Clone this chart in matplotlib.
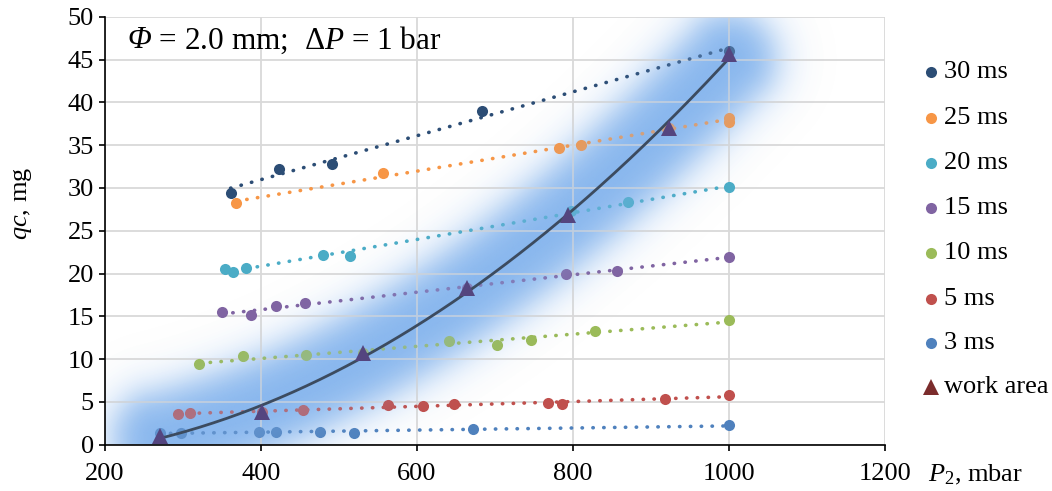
import numpy as np
import matplotlib
matplotlib.use("Agg")
import matplotlib.pyplot as plt
from matplotlib.lines import Line2D
from matplotlib.transforms import offset_copy

plt.rcParams['font.family'] = ['Liberation Serif', 'DejaVu Serif']
plt.rcParams['mathtext.fontset'] = 'custom'
plt.rcParams['mathtext.rm'] = 'Liberation Serif'
plt.rcParams['mathtext.it'] = 'Liberation Serif:italic'

# ---- data ----
labels = ["30 ms", "25 ms", "20 ms", "15 ms", "10 ms", "5 ms", "3 ms"]
colors = ["#2C4D75", "#F79646", "#4BACC6", "#8064A2", "#9BBB59", "#C0504D", "#4F81BD"]

x30 = [361, 423, 491, 683, 1000]
y30 = [29.4, 32.2, 32.8, 39.0, 46.0]
x25 = [368, 557, 782, 810, 923, 1000, 1000]
y25 = [28.2, 31.7, 34.7, 35.0, 37.0, 37.7, 38.2]
x20 = [354, 364, 381, 479, 514, 798, 870, 1000]
y20 = [20.5, 20.2, 20.6, 22.2, 22.0, 27.3, 28.3, 30.1]
x15 = [350, 387, 419, 457, 664, 791, 857, 1000]
y15 = [15.5, 15.1, 16.2, 16.5, 18.3, 20.0, 20.3, 21.9]
x10 = [321, 377, 458, 531, 641, 703, 746, 828, 1000]
y10 = [9.4, 10.4, 10.5, 10.7, 12.15, 11.65, 12.2, 13.3, 14.6]
x5 = [293, 309, 401, 454, 563, 608, 647, 768, 786, 918, 1000]
y5 = [3.55, 3.74, 3.86, 4.0, 4.6, 4.5, 4.7, 4.9, 4.75, 5.3, 5.77]
x3 = [270, 298, 397, 419, 475, 519, 672, 1000]
y3 = [1.4, 1.4, 1.52, 1.45, 1.5, 1.4, 1.83, 2.26]

x_work = [270, 401, 531, 664, 794, 923, 1000]
y_work = [1.0, 3.8, 10.7, 18.3, 26.8, 37.0, 45.7]

series_x = [x30, x25, x20, x15, x10, x5, x3]
series_y = [y30, y25, y20, y15, y10, y5, y3]

xticks = [200, 400, 600, 800, 1000, 1200]
yticks = [0, 5, 10, 15, 20, 25, 30, 35, 40, 45, 50]

# ---- figure ----
W, H = 1052, 491
fig = plt.figure(figsize=(W / 100, H / 100), dpi=100)
L, R, T, B = 105, 885, 16.7, 444.7
ax = fig.add_axes([L / W, 1 - B / H, (R - L) / W, (B - T) / H])
ax.set_xlim(200, 1200)
ax.set_ylim(0, 50)
ax.set_xticks(xticks)
ax.set_yticks(yticks)

for s in ['top', 'right']:
    ax.spines[s].set_visible(False)
for s in ['left', 'bottom']:
    ax.spines[s].set_linewidth(1.2)
    ax.spines[s].set_color('black')
ax.tick_params(direction='out', length=4, width=1.2, labelsize=19, colors='black')
ax.tick_params(axis='x', pad=9)
ax.tick_params(axis='y', pad=4)
ax.grid(True, color='#D9D9D9', linewidth=1.3)
ax.set_axisbelow(True)

# work-area trend curve (2nd order)
cw = np.polyfit(x_work, y_work, 2)
xc = np.linspace(min(x_work), max(x_work), 300)
yc = np.polyval(cw, xc)

# glow band around the curve
pts = ax.transData.transform(np.column_stack([xc, yc]))
NX, NY = 400, 220
gx = np.linspace(200, 1200, NX)
gy = np.linspace(0, 50, NY)
GX, GY = np.meshgrid(gx, gy)
gp = ax.transData.transform(np.column_stack([GX.ravel(), GY.ravel()]))
dmin = np.empty(gp.shape[0])
step = 4000
for i in range(0, gp.shape[0], step):
    c = gp[i:i + step]
    d = np.sqrt((c[:, None, 0] - pts[None, :, 0]) ** 2 + (c[:, None, 1] - pts[None, :, 1]) ** 2)
    dmin[i:i + step] = d.min(axis=1)
dmin = dmin.reshape(NY, NX)
prof = 1.0 / (1.0 + np.exp((dmin - 42.0) / 12.0))
gcol = np.array([135, 182, 238]) / 255.0
img = np.zeros((NY, NX, 4))
img[..., :3] = gcol
img[..., 3] = prof
ax.imshow(img, extent=[200, 1200, 0, 50], origin='lower', aspect='auto',
          interpolation='bilinear', zorder=0.3)
img2 = img.copy()
img2[..., 3] = prof * 0.35
ax.imshow(img2, extent=[200, 1200, 0, 50], origin='lower', aspect='auto',
          interpolation='bilinear', zorder=2.5)

# series: markers + dotted linear trendlines
for xs, ys, col in zip(series_x, series_y, colors):
    cf = np.polyfit(xs, ys, 1)
    xl = np.array([min(xs), max(xs)])
    ax.plot(xl, np.polyval(cf, xl), color=col, linewidth=2.6,
            linestyle=(0, (0.1, 2.9)), dash_capstyle='round', zorder=2)
    ax.plot(xs, ys, 'o', color=col, markersize=8, markeredgewidth=0, zorder=2.1)

ax.plot(xc, yc, color='#3C4B5F', linewidth=2.0, zorder=3)
ax.plot(x_work, y_work, '^', color='#54457F', markersize=12, markeredgewidth=0, zorder=3.1)

# annotation: italic Phi followed by the rest
t1 = fig.text(127 / W, 1 - 40 / H, "Φ", style='italic', fontsize=22.5, va='center', ha='left')
fig.canvas.draw()
bb = t1.get_window_extent(renderer=fig.canvas.get_renderer())
fig.text(bb.x1 / W, 1 - 40 / H, r" = 2.0 mm;  Δ$\mathit{P}$ = 1 bar",
         fontsize=22.5, va='center', ha='left')

# axis labels
fig.text(22 / W, 1 - 203 / H, r"$\mathit{qc}$, mg", rotation=90, fontsize=19,
         va='center', ha='center')
fig.text(928 / W, 1 - 475 / H, r"$\mathit{P}_2$, mbar", fontsize=19, va='center', ha='left')

# legend (manual)
leg_y = [72, 118, 163, 208, 253, 299, 343]
for lab, col, yy in zip(labels, colors, leg_y):
    fig.add_artist(Line2D([931 / W], [1 - yy / H], marker='o', color=col,
                          markersize=8, markeredgewidth=0, linestyle='none'))
    fig.text(944 / W, 1 - yy / H, lab, fontsize=19, va='center', ha='left')
fig.add_artist(Line2D([931 / W], [1 - 387 / H], marker='^', color='#7B2C2C',
                      markersize=12, markeredgewidth=0, linestyle='none'))
fig.text(944 / W, 1 - 387 / H, "work area", fontsize=19, va='center', ha='left')

fig.savefig("out.png", dpi=100)
